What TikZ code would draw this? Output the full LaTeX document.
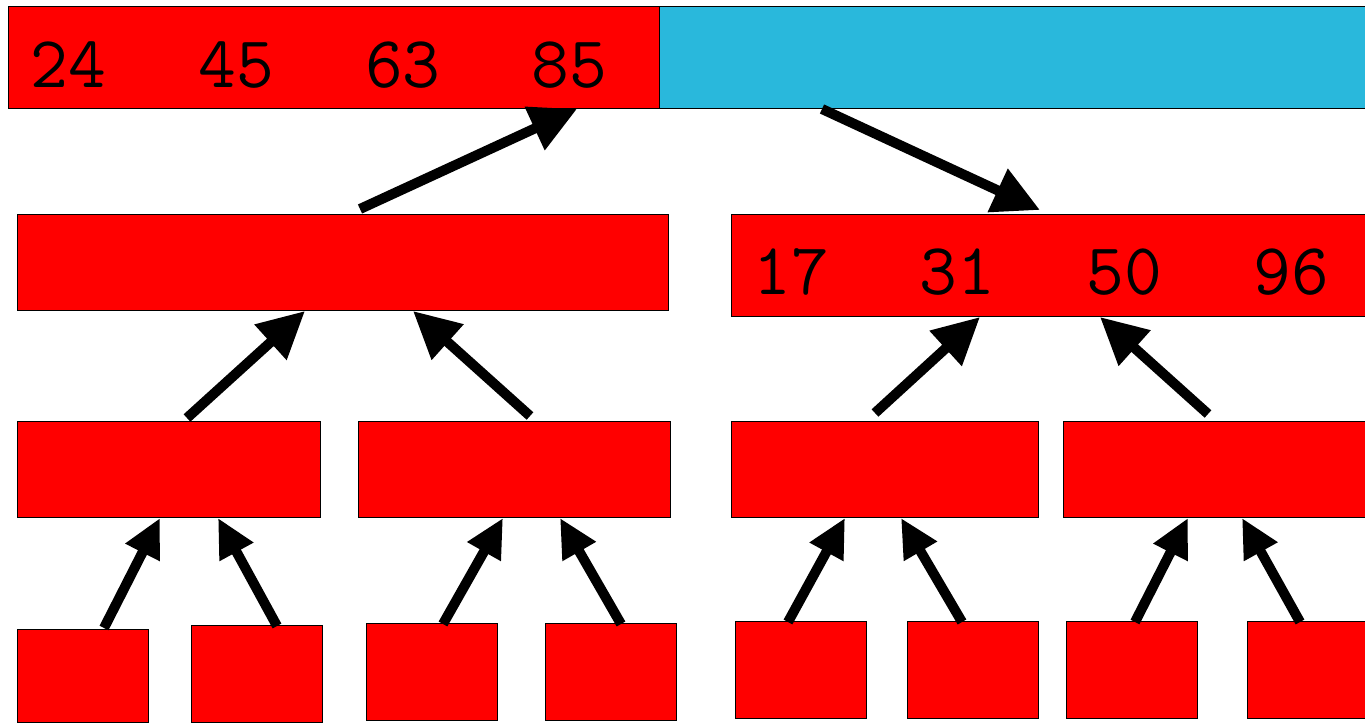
\documentclass[tikz,border=0pt]{standalone}
\usetikzlibrary{arrows.meta,calc}
\definecolor{skyb}{RGB}{41,184,220}
\tikzset{
  box/.style={draw=black, line width=0.75pt, fill=red, inner sep=0pt, outer sep=0pt, anchor=north west},
  bluebox/.style={box, fill=skyb},
  num/.style={font=\ttfamily\fontsize{55}{58}\selectfont, inner sep=0pt, anchor=base},
  arrbig/.style={line width=7.5pt, -{Triangle[length=35pt,width=34pt]}},
  arrsmall/.style={line width=7.5pt, -{Triangle[length=29pt,width=27pt]}}
}
\newcommand\bx[6][box]{\node[#1, minimum width={(#5-#3)*0.75pt}, minimum height={(#6-#4)*0.75pt}] (#2) at (#3,#4) {};}
\begin{document}
\begin{tikzpicture}[x=0.75pt,y=-0.75pt]
\useasboundingbox (0,0) rectangle (1365,723);
\clip (0,0) rectangle (1365,723);
% top
\bx{top}{8}{7}{659}{109}
\bx[bluebox]{topb}{659}{7}{1370}{109}
% level 1
\bx{la}{17}{215}{668}{311}
\bx{lb}{731}{215}{1370}{317}
% level 2
\bx{ma}{17}{422}{320}{518}
\bx{mb}{358}{422}{670}{518}
\bx{mc}{731}{422}{1038}{518}
\bx{md}{1063}{422}{1370}{518}
% level 3
\bx{sa}{17}{630}{148}{722}
\bx{sb}{191}{626}{322}{722}
\bx{sc}{366}{624}{497}{720}
\bx{sd}{545}{624}{676}{720}
\bx{se}{735}{622}{866}{718}
\bx{sf}{907}{622}{1038}{718}
\bx{sg}{1066}{622}{1197}{718}
\bx{sh}{1247}{622}{1370}{718}
% numbers
\node[num] (t1) at (68,88) {24};
\node[num] (t2) at (236,88) {45};
\node[num] (t3) at (403,88) {63};
\node[num] (t4) at (569,88) {85};
\node[num] (r1) at (791,295) {17};
\node[num] (r2) at (957,295) {31};
\node[num] (r3) at (1124,295) {50};
\node[num] (r4) at (1291,295) {96};
% arrows
\draw[arrbig] ($(la.north west)+(343,-6)$) -- ($(top.south west)+(569,0)$);
\draw[arrbig] ($(topb.south west)+(163,0)$) -- ($(lb.north west)+(309,-5)$);
\draw[arrbig] ($(ma.north west)+(170,-4)$) -- ($(la.south west)+(288,0)$);
\draw[arrbig] ($(mb.north west)+(172,-6)$) -- ($(la.south west)+(396,0)$);
\draw[arrbig] ($(mc.north west)+(144,-9)$) -- ($(lb.south west)+(249,0)$);
\draw[arrbig] ($(md.north west)+(145,-8)$) -- ($(lb.south west)+(369,0)$);
\draw[arrsmall] ($(sa.north west)+(87,-2)$) -- ($(ma.south west)+(143,0)$);
\draw[arrsmall] ($(sb.north west)+(86,0)$) -- ($(ma.south west)+(201,0)$);
\draw[arrsmall] ($(sc.north west)+(77,0)$) -- ($(mb.south west)+(145,0)$);
\draw[arrsmall] ($(sd.north west)+(76,0)$) -- ($(mb.south west)+(202,0)$);
\draw[arrsmall] ($(se.north west)+(53,0)$) -- ($(mc.south west)+(114,0)$);
\draw[arrsmall] ($(sf.north west)+(55,0)$) -- ($(mc.south west)+(170,0)$);
\draw[arrsmall] ($(sg.north west)+(69,0)$) -- ($(md.south west)+(125,0)$);
\draw[arrsmall] ($(sh.north west)+(53,0)$) -- ($(md.south west)+(179,0)$);
\end{tikzpicture}
\end{document}
